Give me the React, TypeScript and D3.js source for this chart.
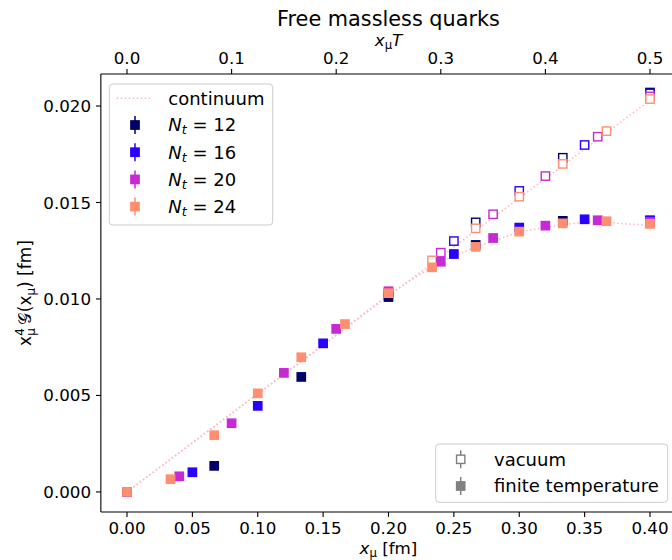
import * as d3 from 'd3'

// finite temperature data (filled squares)
const x12 = [0, 0.0667, 0.1333, 0.2, 0.2667, 0.3333, 0.4]
const y12 = [0, 0.00135, 0.00596, 0.0101, 0.0128, 0.01405, 0.01408]
const x16 = [0, 0.05, 0.1, 0.15, 0.2, 0.25, 0.3, 0.35, 0.4]
const y16 = [0, 0.00102, 0.00446, 0.0077, 0.0103, 0.01233, 0.0137, 0.01413, 0.01405]
const x20 = [0, 0.04, 0.08, 0.12, 0.16, 0.2, 0.24, 0.28, 0.32, 0.36, 0.4]
const y20 = [0, 0.00081, 0.00356, 0.00617, 0.00845, 0.0104, 0.01193, 0.01316, 0.0138, 0.01408, 0.014]
const x24 = [0, 0.0333, 0.0667, 0.1, 0.1333, 0.1667, 0.2, 0.2333, 0.2667, 0.3, 0.3333, 0.3667, 0.4]
const y24 = [0, 0.00066, 0.00294, 0.00511, 0.00698, 0.0087, 0.0103, 0.01164, 0.0127, 0.01349, 0.01392, 0.01403, 0.01389]

// vacuum data (open squares)
const vx12 = [0.2667, 0.3333, 0.4]
const vy12 = [0.01397, 0.01732, 0.0207]
const vx16 = [0.25, 0.3, 0.35, 0.4]
const vy16 = [0.013, 0.0156, 0.01798, 0.02065]
const vx20 = [0.24, 0.28, 0.32, 0.36, 0.4]
const vy20 = [0.0124, 0.01439, 0.01637, 0.01841, 0.0205]
const vx24 = [0.2333, 0.2667, 0.3, 0.3333, 0.3667, 0.4]
const vy24 = [0.012, 0.01366, 0.0153, 0.017, 0.0187, 0.02036]

// continuum curves
const contVacX = [0, 0.1, 0.2, 0.3, 0.4]
const contVacY = [0, 0.00508, 0.01015, 0.01523, 0.0203]
const contThX = [0, 0.1, 0.15, 0.2, 0.22, 0.24, 0.26, 0.28, 0.3, 0.32, 0.34, 0.36, 0.38, 0.4]
const contThY = [0, 0.00508, 0.0076, 0.0102, 0.0111, 0.0119, 0.0125, 0.013, 0.01345, 0.0137, 0.0139, 0.014, 0.0139, 0.01383]

const ntLabels = ['12', '16', '20', '24']
const colors = ['#000066', '#2800ff', '#c729d6', '#ff8f70']
const xTicks = [0, 0.05, 0.1, 0.15, 0.2, 0.25, 0.3, 0.35, 0.4]
const topTicks = [0, 0.1, 0.2, 0.3, 0.4, 0.5]
const yTicks = [0, 0.005, 0.01, 0.015, 0.02]

const W = 672
const H = 560
const FONT = 'DejaVu Sans, sans-serif'

export default function App() {
  const x = d3.scaleLinear().domain([-0.02, 0.42]).range([100.85, 676.15])
  const xTop = d3.scaleLinear().domain([-0.025, 0.525]).range([100.85, 676.15])
  const y = d3.scaleLinear().domain([-0.00104, 0.02166]).range([512, 74])

  const finite = [[x12, y12], [x16, y16], [x20, y20], [x24, y24]]
  const vacuum = [[vx12, vy12], [vx16, vy16], [vx20, vy20], [vx24, vy24]]

  const line = d3.line<[number, number]>()
    .x(d => x(d[0]))
    .y(d => y(d[1]))
    .curve(d3.curveMonotoneX)

  const vacPath = line(contVacX.map((v, i) => [v, contVacY[i]]))
  const thPath = line(contThX.map((v, i) => [v, contThY[i]]))

  const ms = 8.3
  const left = 100.85
  const top = 74
  const bottom = 512

  const square = (cx: number, cy: number, color: string, open: boolean, key: string) => (
    <rect key={key} x={cx - ms / 2} y={cy - ms / 2} width={ms} height={ms}
      fill={open ? 'white' : color} stroke={color} strokeWidth={1.4} />
  )

  return (
    <svg width={W} height={H} style={{ position: 'absolute', left: 0, top: 0 }} fontFamily={FONT}>
      <rect width={W} height={H} fill='white' />
      <defs>
        <clipPath id='plot'>
          <rect x={left} y={top} width={676.15 - left} height={bottom - top} />
        </clipPath>
      </defs>

      {/* continuum */}
      <g clipPath='url(#plot)'>
        <path d={vacPath!} fill='none' stroke='#ffb6c1' strokeWidth={1.5} strokeDasharray='1.5,2.5' />
        <path d={thPath!} fill='none' stroke='#ffb6c1' strokeWidth={1.5} strokeDasharray='1.5,2.5' />
      </g>

      {/* data */}
      <g>
        {vacuum.map((s, k) => s[0].map((v, i) => square(x(v), y(s[1][i]), colors[k], true, `v${k}-${i}`)))}
        {finite.map((s, k) => s[0].map((v, i) => square(x(v), y(s[1][i]), colors[k], false, `f${k}-${i}`)))}
      </g>

      {/* spines */}
      <line x1={left} x2={left} y1={top} y2={bottom} stroke='black' strokeWidth={1.1} />
      <line x1={left} x2={W} y1={bottom} y2={bottom} stroke='black' strokeWidth={1.1} />
      <line x1={left} x2={W} y1={top} y2={top} stroke='black' strokeWidth={1.1} />

      {/* bottom axis */}
      {xTicks.map(t => (
        <g key={'bx' + t} transform={`translate(${x(t)},${bottom})`}>
          <line y2={4.9} stroke='black' strokeWidth={1.1} />
          <text y={22} textAnchor='middle' fontSize={16.7}>{t.toFixed(2)}</text>
        </g>
      ))}
      <text x={388.5} y={554} textAnchor='middle' fontSize={16.7}>
        <tspan fontStyle='italic'>x</tspan>
        <tspan fontSize={11.7} dy={3}>μ</tspan>
        <tspan dy={-3}> [fm]</tspan>
      </text>

      {/* top axis */}
      {topTicks.map(t => (
        <g key={'tx' + t} transform={`translate(${xTop(t)},${top})`}>
          <line y2={-4.9} stroke='black' strokeWidth={1.1} />
          <text y={-10} textAnchor='middle' fontSize={16.7}>{t.toFixed(1)}</text>
        </g>
      ))}
      <text x={388.5} y={46} textAnchor='middle' fontSize={16.7}>
        <tspan fontStyle='italic'>x</tspan>
        <tspan fontSize={11.7} dy={3}>μ</tspan>
        <tspan fontStyle='italic' dy={-3}>T</tspan>
      </text>
      <text x={388.5} y={26} textAnchor='middle' fontSize={20.8}>Free massless quarks</text>

      {/* left axis */}
      {yTicks.map(t => (
        <g key={'ly' + t} transform={`translate(${left},${y(t)})`}>
          <line x2={-4.9} stroke='black' strokeWidth={1.1} />
          <text x={-9.8} dy='0.36em' textAnchor='end' fontSize={16.7}>{t.toFixed(3)}</text>
        </g>
      ))}
      <text transform={`translate(31,${(top + bottom) / 2}) rotate(-90)`} textAnchor='middle' fontSize={17}>
        <tspan>x</tspan>
        <tspan fontSize={11.9} dy={4}>μ</tspan>
        <tspan fontSize={11.9} dx={-7.6} dy={-11}>4</tspan>
        <tspan dx={3} dy={7}>𝒢</tspan>
        <tspan dx={1}>(x</tspan>
        <tspan fontSize={11.9} dy={4}>μ</tspan>
        <tspan dy={-4}>) [fm]</tspan>
      </text>

      {/* legend 1 */}
      <rect x={109.3} y={84} width={163.4} height={141} rx={3.5} fill='white' fillOpacity={0.8} stroke='#cccccc' strokeWidth={1} />
      <line x1={116.7} x2={151.7} y1={98.3} y2={98.3} stroke='#ffb6c1' strokeWidth={1.5} strokeDasharray='1.5,2.5' />
      <text x={168.3} y={98.3} dy='0.36em' fontSize={18}>continuum</text>
      {ntLabels.map((n, k) => {
        const ly = 125 + k * 27.2
        return (
          <g key={'lg' + n}>
            <line x1={135} x2={135} y1={ly - 9} y2={ly + 9} stroke={colors[k]} strokeWidth={1.5} />
            {square(135, ly, colors[k], false, 'lm' + n)}
            <text x={168.3} y={ly} dy='0.36em' fontSize={18}>
              <tspan fontStyle='italic'>N</tspan>
              <tspan fontStyle='italic' fontSize={12.6} dy={3}>t</tspan>
              <tspan dy={-3}> = {n}</tspan>
            </text>
          </g>
        )
      })}

      {/* legend 2 */}
      <rect x={435.7} y={444} width={232} height={58.3} rx={3.5} fill='white' fillOpacity={0.8} stroke='#cccccc' strokeWidth={1} />
      <line x1={460.7} x2={460.7} y1={450.3} y2={468.3} stroke='#808080' strokeWidth={1.5} />
      {square(460.7, 459.3, '#808080', true, 'lv')}
      <text x={494} y={459.3} dy='0.36em' fontSize={18}>vacuum</text>
      <line x1={460.7} x2={460.7} y1={477} y2={495} stroke='#808080' strokeWidth={1.5} />
      {square(460.7, 486, '#808080', false, 'lf')}
      <text x={494} y={486} dy='0.36em' fontSize={18}>finite temperature</text>
    </svg>
  )
}
